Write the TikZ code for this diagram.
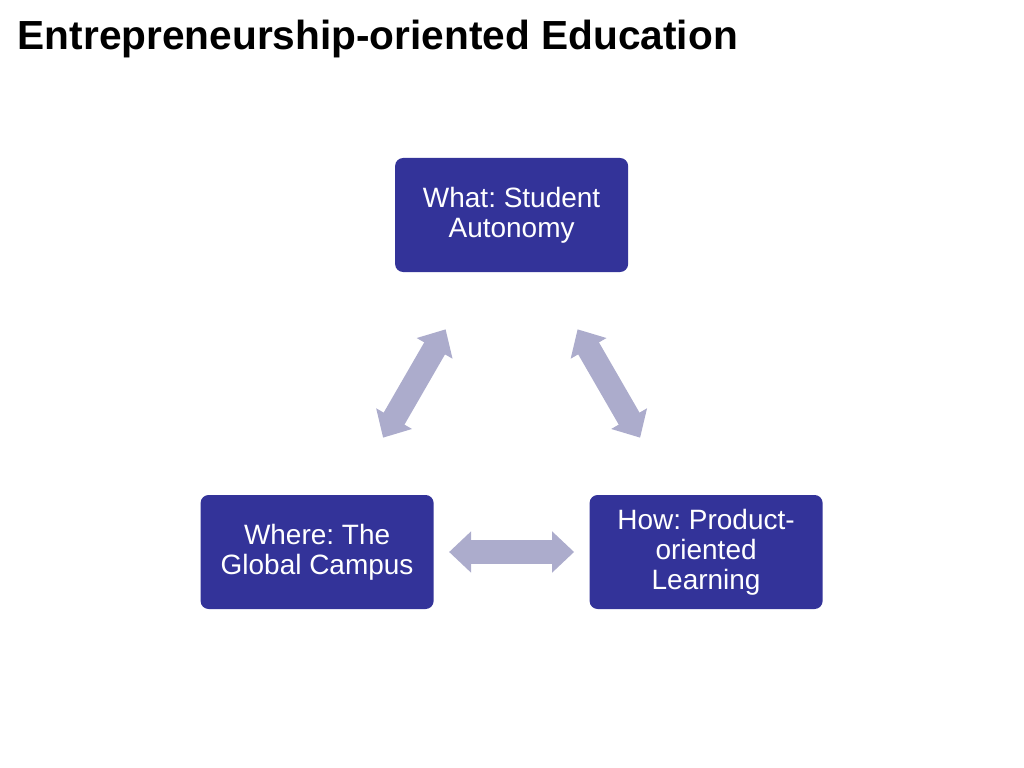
\documentclass[tikz,border=0pt]{standalone}
\usepackage{fontspec}
\setmainfont{Liberation Sans}
\usetikzlibrary{arrows.meta,positioning}
\definecolor{boxblue}{RGB}{51,51,153}
\definecolor{arrowgrey}{RGB}{172,172,204}
\frenchspacing

\begin{document}
\begin{tikzpicture}[node distance=4cm, on grid]
\tikzstyle{corner}=[rectangle,rounded corners=0.2cm,fill=boxblue,text=white,minimum width=5.825cm,minimum height=2.85cm,align=center,font=\fontsize{19.9}{21.3}\selectfont,inner sep=0pt]
\tikzstyle{fatarrow}=[draw=arrowgrey,line width=0.6cm,{Triangle[length=0.55cm,width=1cm]}-{Triangle[length=0.55cm,width=1cm]},shorten >=3.3cm,shorten <=3.3cm]
\useasboundingbox (0,0) rectangle (25.6,-19.2);
\node[anchor=base west,font=\bfseries\fontsize{28.9}{30}\selectfont] (title) at (0.32,-1.25) {Entrepreneurship-oriented Education};
\node[corner]   (what)  at (12.79,-5.375)                   {What: Student\\Autonomy};
\node[corner]   (where) [below left=8.425cm and 4.8625cm of what]  {Where: The\\Global Campus};
\node[corner]   (how)   [below right=8.425cm and 4.8625cm of what] {How: Product-\\oriented\\Learning};
\path
(what.center)   edge[fatarrow]  (where.center)
                edge[fatarrow]  (how.center)
%
(where.center)  edge[fatarrow]  (how.center);
\end{tikzpicture}
\end{document}
